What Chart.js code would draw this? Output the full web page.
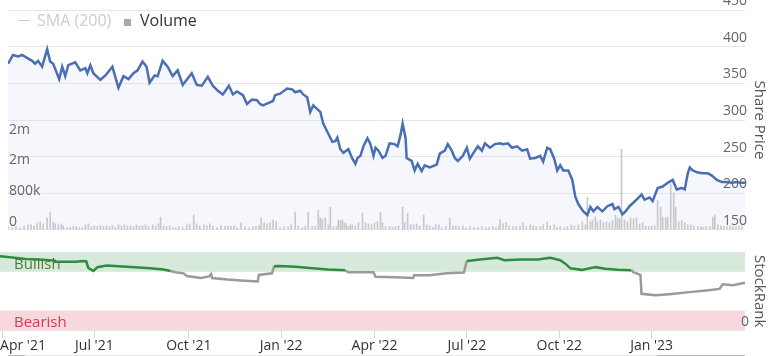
<!DOCTYPE html>
<html><head><meta charset="utf-8">
<script src="https://cdn.jsdelivr.net/npm/chart.js@4.4.0/dist/chart.umd.min.js"></script>
<style>
html,body{margin:0;padding:0;background:#fff;width:772px;height:356px;overflow:hidden;font-family:'Open Sans',sans-serif;}
#top{position:absolute;left:0;top:0;}
#bot{position:absolute;left:0;top:240px;}
.lg{position:absolute;font-size:16px;line-height:20px;white-space:nowrap;}
</style></head><body>
<canvas id="top" width="772" height="240"></canvas>
<canvas id="bot" width="772" height="116"></canvas>
<div class="lg" style="left:18px;top:20px;width:12px;height:1px;background:#ccc"></div>
<div class="lg" style="left:37px;top:10px;color:#ccc">SMA (200)</div>
<div class="lg" style="left:124px;top:19px;width:7px;height:7px;background:#aaa"></div>
<div class="lg" style="left:140px;top:10px;color:#333">Volume</div>
<div style="position:absolute;left:8px;top:355px;width:737px;height:1px;background:#e8e8e8"></div>
<div style="position:absolute;left:8px;top:355px;width:17px;height:1px;background:#bbb"></div>
<div style="position:absolute;left:657px;top:355px;width:88px;height:1px;background:#bbb"></div>
<script>
// x values are days since 1 Apr 2021
const dateTickDays = [0, 91, 184, 275, 367, 458, 549, 640];
const dateTickLabels = ["Apr '21", "Jul '21", "Oct '21", "Jan '22", "Apr '22", "Jul '22", "Oct '22", "Jan '23"];

const priceDays = [-2,3,8,12,17,22,25,28,32,37,40,43,49,52,55,58,65,70,75,77,80,83,90,95,102,103,108,113,118,123,127,132,136,139,144,147,152,157,162,167,172,176,181,186,191,197,202,207,212,218,222,226,232,236,241,246,249,252,257,262,264,269,276,281,284,289,292,296,299,302,306,309,312,316,321,324,326,329,332,337,341,344,346,349,352,356,359,362,364,367,371,374,378,383,386,389,391,394,395,400,403,406,410,413,418,425,428,433,436,440,443,446,451,455,458,463,466,470,473,478,483,488,491,496,500,505,510,515,518,523,528,531,535,538,542,545,548,551,556,560,563,566,571,575,578,581,585,590,595,600,602,606,610,613,617,624,629,632,637,640,645,650,655,660,664,669,672,675,677,680,685,690,695,699,704,709,714,719,724,727,732];
const priceValues = [377,389,387,389,385,381,377,381,373,397,380,377,356,373,360,375,379,368,371,364,375,364,355,361,373,368,344,360,356,364,368,380,373,351,361,360,381,373,360,368,348,355,364,348,347,359,347,340,335,347,335,339,334,322,328,327,322,320,323,326,334,336,343,342,338,340,335,331,311,320,315,311,295,284,270,271,276,260,255,260,247,240,248,251,264,275,267,251,262,258,248,251,268,267,264,280,295,275,248,244,231,240,230,238,235,239,254,258,267,258,248,244,251,262,247,258,264,258,268,262,267,268,267,268,262,264,258,260,247,248,251,243,262,260,247,231,238,231,231,218,195,185,175,170,181,175,181,175,182,185,178,181,171,175,182,191,198,191,194,189,207,209,214,218,205,207,205,227,235,231,228,227,227,224,218,215,215,214,215,214,214];

const volDays = [-2,2,6,10,14,18,21,24,27,30,33,37,40,43,45,48,51,53,57,60,63,66,69,72,75,78,81,84,87,90,93,96,99,102,105,108,111,114,117,120,123,126,129,132,135,138,142,145,148,150,153,156,159,162,165,168,172,176,179,183,186,189,193,196,199,202,206,210,214,217,220,223,226,230,234,238,242,245,248,250,253,256,259,262,265,269,273,277,280,284,287,291,294,297,301,304,307,309,311,314,317,319,322,325,327,329,331,333,335,337,339,341,344,347,351,354,357,360,363,366,369,371,374,378,381,384,387,391,393,396,399,402,405,408,412,415,418,421,424,427,430,434,438,441,444,447,451,454,458,462,466,470,474,477,481,484,487,488,491,494,497,501,504,508,511,514,518,521,524,528,531,535,538,542,545,548,552,555,559,562,566,570,573,575,578,580,583,585,588,591,594,597,600,603,605,607,609,612,615,618,621,624,627,630,633,636,639,642,645,648,650,653,655,658,661,663,666,669,672,675,678,681,685,688,690,693,697,700,702,705,708,711,714,717,720,723,726,729];
const volK = [76,51,76,51,101,127,127,101,177,202,152,304,455,202,152,127,152,101,51,51,76,76,51,51,127,152,76,101,76,101,76,101,76,101,51,127,101,127,101,101,76,127,101,101,127,76,127,101,152,329,101,76,101,51,51,76,51,127,152,380,152,101,127,101,152,101,51,101,76,101,76,101,51,177,76,51,76,76,101,304,177,152,177,253,202,51,76,76,127,455,101,51,76,455,76,101,506,304,278,304,127,582,76,76,253,228,253,177,152,76,127,127,101,177,430,177,152,127,177,202,455,177,76,76,51,76,101,582,177,430,127,127,152,101,380,127,101,51,127,127,51,76,304,101,101,76,101,51,76,51,51,76,51,51,76,51,101,253,152,177,101,76,76,101,177,76,127,101,76,76,127,202,101,127,51,76,51,76,127,101,127,202,127,835,202,253,329,202,253,177,202,177,228,380,304,278,2100,253,202,304,278,304,152,177,101,76,76,101,759,582,329,304,329,1189,961,582,202,228,177,127,127,101,76,76,51,76,76,329,380,127,101,76,76,101,76,76,101,76];
const volTicks = [0, 800, 1600, 2400];
const volTickLabels = ['0', '800k', '2m', '2m'];

const rankDays = [-2,10,23,40,52,53,73,80,83,85,90,94,103,123,146,159,166,171,179,182,196,204,206,207,222,239,252,253,266,268,272,289,306,321,338,341,366,368,388,405,406,421,438,455,458,471,488,495,511,528,540,550,555,560,571,585,594,607,620,622,629,630,644,660,677,694,707,710,720,732];
const rankValues = [95,93.5,91.5,90.6,89.4,88,88,89,88.5,80,76,81,83,81.5,79.5,78,76,74.5,73,69.5,67,69,72,67,65,63.5,62.5,71,73,82,82.5,81.5,79.5,78,77,74.5,74.5,68.5,68,67,70.5,70.5,73,74,89,91,93,90,91,91,93,90,85.5,79.5,77.5,81,79,77.5,77,74.5,71,46.7,44.8,46.5,48.8,51,53,59,57.7,61];
const BULL_MIN = 75, BEAR_MAX = 25;

const FONT = "'Open Sans', sans-serif";
const X_MIN = -2, X_MAX = 732;

new Chart(document.getElementById('top'), {
  type: 'line',
  data: { datasets: [
    { type: 'line', label: 'Share Price', data: priceDays.map((d, i) => ({x: d, y: priceValues[i]})),
      yAxisID: 'yPrice', borderColor: '#4a6fb5', borderWidth: 2.5, pointRadius: 0, tension: 0,
      fill: 'start', backgroundColor: '#f5f7fc', order: 0 },
    { type: 'bar', label: 'Volume', data: volDays.map((d, i) => ({x: d, y: volK[i]})),
      yAxisID: 'yVol', backgroundColor: '#c9c9cd', barThickness: 1, order: 1 }
  ]},
  options: {
    responsive: false, animation: false, devicePixelRatio: 1,
    layout: {padding: {top: 5, bottom: 9, left: 0, right: 0}},
    plugins: {legend: {display: false}, tooltip: {enabled: false}, filler: {drawTime: 'beforeDraw'}},
    scales: {
      x: {type: 'linear', min: X_MIN, max: X_MAX, offset: false, display: false, grid: {offset: false}},
      yPrice: {position: 'right', min: 150, max: 450,
        ticks: {stepSize: 50, mirror: true, padding: 2, labelOffset: -9, color: '#666', font: {family: FONT, size: 14}},
        grid: {color: '#e6e6e6', drawTicks: false}, border: {display: false},
        title: {display: true, text: 'Share Price', color: '#555', font: {family: FONT, size: 15}, padding: {top: 4, bottom: 0}},
        afterFit(s) { s.width = 27; }},
      yVol: {position: 'left', min: 0, max: 5720,
        afterBuildTicks(s) { s.ticks = volTicks.map(v => ({value: v})); },
        ticks: {mirror: true, padding: 1, labelOffset: -8, color: '#666', font: {family: FONT, size: 14},
          callback: (v, i) => volTickLabels[i]},
        grid: {display: false}, border: {display: false},
        afterFit(s) { s.width = 8; }}
    }
  }
});

const bandPlugin = {
  id: 'bands',
  beforeDraw(chart) {
    const {ctx, chartArea: a, scales: {y}} = chart;
    ctx.save();
    const yTop = y.getPixelForValue(100), yB = y.getPixelForValue(BULL_MIN);
    const yBe = y.getPixelForValue(BEAR_MAX), y0 = y.getPixelForValue(0);
    ctx.fillStyle = '#d6e9da'; ctx.fillRect(a.left, yTop, a.right - a.left, yB - yTop);
    ctx.fillStyle = '#f7d8de'; ctx.fillRect(a.left, yBe, a.right - a.left, y0 - yBe);
    ctx.font = '15px ' + FONT; ctx.textBaseline = 'middle'; ctx.textAlign = 'left';
    ctx.fillStyle = '#4b7d3a'; ctx.fillText('Bullish', a.left + 14, (yTop + yB) / 2 + 3);
    ctx.fillStyle = '#d63a5a'; ctx.fillText('Bearish', a.left + 14, (yBe + y0) / 2 + 2);
    ctx.restore();
  }
};
const firstLabelPlugin = {
  id: 'firstLabel',
  beforeDraw(chart) {
    const s = chart.scales.x;
    const items = s.getLabelItems();
    if (items.length) {
      items[0].options.textAlign = 'left';
      items[0].options.translation[0] = s.getPixelForValue(s.ticks[0].value) - 2;
    }
  }
};

new Chart(document.getElementById('bot'), {
  type: 'line',
  data: { datasets: [{ label: 'StockRank', data: rankDays.map((d, i) => ({x: d, y: rankValues[i]})),
    borderWidth: 2.5, pointRadius: 0, tension: 0, fill: false, borderColor: '#9a9a9a',
    segment: {borderColor: c => (c.p0.parsed.y >= BULL_MIN && c.p1.parsed.y >= BULL_MIN) ? '#2e8b40' : '#9a9a9a'} }]},
  options: {
    responsive: false, animation: false, devicePixelRatio: 1,
    layout: {padding: {top: 8, bottom: 0, left: 0, right: 0}},
    plugins: {legend: {display: false}, tooltip: {enabled: false}},
    scales: {
      x: {type: 'linear', min: X_MIN, max: X_MAX, offset: false,
        afterBuildTicks(s) { s.ticks = dateTickDays.map(v => ({value: v})); },
        ticks: {callback: (v, i) => dateTickLabels[i], color: '#333', padding: 0, maxRotation: 0, autoSkip: false,
          font: {family: FONT, size: 14}},
        grid: {drawOnChartArea: false, drawTicks: true, tickLength: 8, color: '#ccd6eb'}, border: {display: false},
        afterFit(s) { s.height = 26; s.paddingLeft = 0; s.paddingRight = 0; }},
      y: {position: 'right', min: 0, max: 100,
        afterBuildTicks(s) { s.ticks = [{value: 0}, {value: 100}]; },
        ticks: {mirror: true, padding: 4, labelOffset: -8, color: '#666', font: {family: FONT, size: 14},
          callback: v => v === 0 ? '0' : ''},
        grid: {color: '#e6e6e6', drawTicks: false}, border: {display: false},
        title: {display: true, text: 'StockRank', color: '#555', font: {family: FONT, size: 15}, padding: {top: 4, bottom: 0}},
        afterFit(s) { s.width = 27; }}
    }
  },
  plugins: [bandPlugin, firstLabelPlugin]
});
</script>
</body></html>
